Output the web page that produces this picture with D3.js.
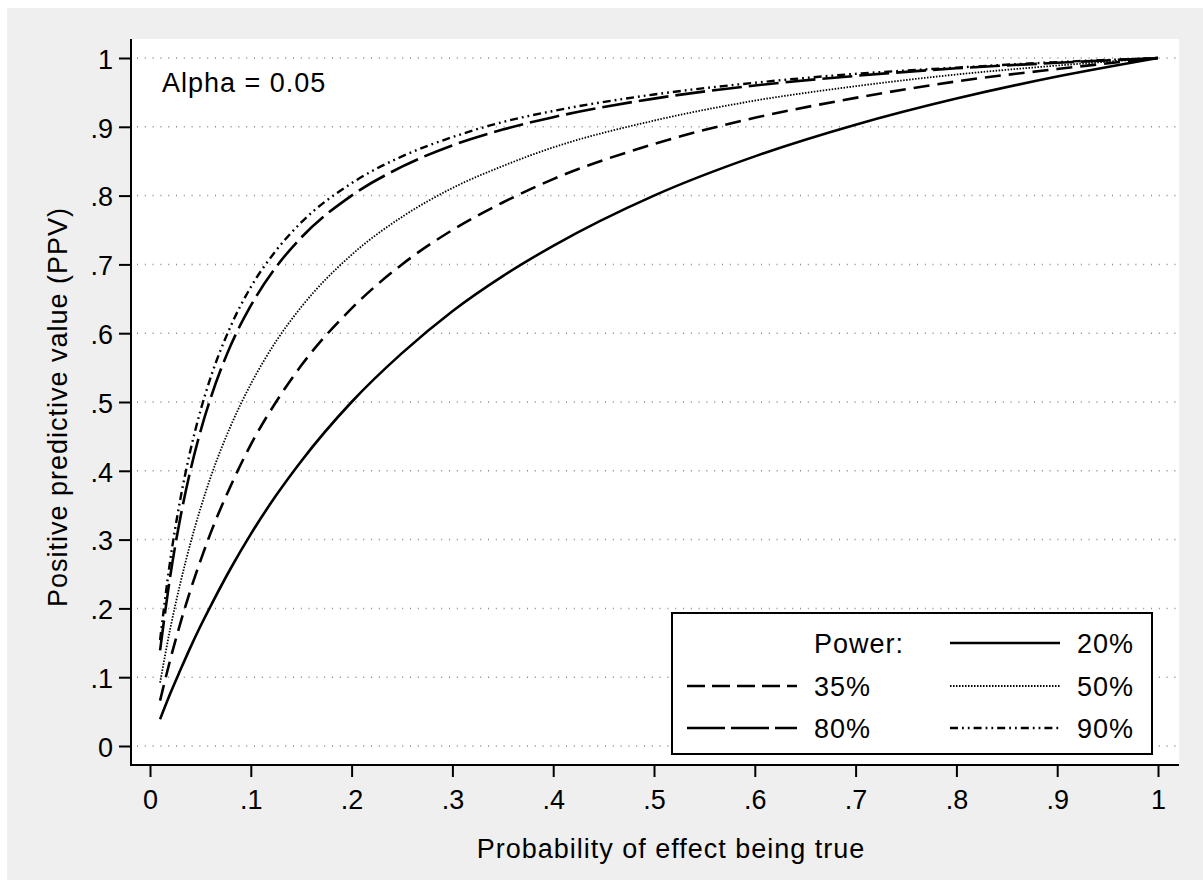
<!DOCTYPE html>
<html>
<head>
<meta charset="utf-8">
<script src="https://cdn.jsdelivr.net/npm/d3@7"></script>
<style>
  body { margin: 0; background: #fff; }
  text { font-family: Arial, "Liberation Sans", sans-serif; fill: #000; font-size: 27px; letter-spacing: 1px; }
  .axis path, .axis line { stroke: #000; stroke-width: 2; }
  .axis text { font-size: 27px; }
</style>
</head>
<body>
<div id="chart"></div>
<script>
// prior probability of effect being true
var probs = [0.01, 0.02, 0.03, 0.04, 0.05, 0.06, 0.08, 0.1, 0.125, 0.15, 0.2, 0.25, 0.3, 0.35, 0.4, 0.5, 0.6, 0.7, 0.8, 0.9, 1];

// PPV
var ppv20 = [0.039, 0.076, 0.110, 0.143, 0.174, 0.203, 0.258, 0.308, 0.364, 0.414, 0.500, 0.571, 0.632, 0.683, 0.727, 0.800, 0.857, 0.903, 0.941, 0.973, 1];
var ppv35 = [0.066, 0.125, 0.178, 0.226, 0.269, 0.309, 0.378, 0.438, 0.500, 0.553, 0.636, 0.700, 0.750, 0.790, 0.824, 0.875, 0.913, 0.942, 0.966, 0.984, 1];
var ppv50 = [0.092, 0.170, 0.236, 0.294, 0.345, 0.390, 0.465, 0.526, 0.588, 0.638, 0.714, 0.769, 0.811, 0.843, 0.870, 0.909, 0.938, 0.959, 0.976, 0.989, 1];
var ppv80 = [0.139, 0.246, 0.331, 0.400, 0.457, 0.505, 0.582, 0.640, 0.696, 0.739, 0.800, 0.842, 0.873, 0.896, 0.914, 0.941, 0.960, 0.974, 0.985, 0.993, 1];
var ppv90 = [0.154, 0.269, 0.358, 0.429, 0.487, 0.535, 0.610, 0.667, 0.720, 0.761, 0.818, 0.857, 0.885, 0.907, 0.923, 0.947, 0.964, 0.977, 0.986, 0.994, 1];

var seriesNames = ["20%", "35%", "50%", "80%", "90%"];
var xTicks = [0, .1, .2, .3, .4, .5, .6, .7, .8, .9, 1];
var yTicks = [0, .1, .2, .3, .4, .5, .6, .7, .8, .9, 1];

var series = [
  { name: seriesNames[0], values: ppv20, dash: null, width: 2.6 },
  { name: seriesNames[1], values: ppv35, dash: "16,8", width: 2.6 },
  { name: seriesNames[2], values: ppv50, dash: "1.5,1.5", width: 1.8 },
  { name: seriesNames[3], values: ppv80, dash: "30,7", width: 2.6 },
  { name: seriesNames[4], values: ppv90, dash: "8,4,1.8,4,1.8,4", width: 2.4 }
];

var svgWidth = 1203;
var svgHeight = 880;

var svg = d3.select("#chart")
  .append("svg")
  .attr("width", svgWidth)
  .attr("height", svgHeight);

// outer graph region and white plot region
svg.append("rect")
  .attr("x", 7).attr("y", 8)
  .attr("width", svgWidth - 7).attr("height", svgHeight - 8)
  .attr("fill", "#efefef");

svg.append("rect")
  .attr("x", 131).attr("y", 39)
  .attr("width", 1179 - 131).attr("height", 765 - 39)
  .attr("fill", "#fff");

var x = d3.scaleLinear().domain([0, 1]).range([150, 1158]);
var y = d3.scaleLinear().domain([0, 1]).range([746, 58]);

var fmt = function(d) {
  if (d === 0) return "0";
  if (d === 1) return "1";
  return d3.format(".1f")(d).replace(/^0/, "");
};

// dotted gridlines
svg.append("g")
  .selectAll("line")
  .data(yTicks)
  .enter()
  .append("line")
  .attr("x1", 137).attr("x2", 1176)
  .attr("y1", d => y(d)).attr("y2", d => y(d))
  .attr("stroke", "#8a8a8a")
  .attr("stroke-width", 1.5)
  .attr("stroke-dasharray", "1,6.8");

// axes
var leftAxis = d3.axisLeft(y).tickValues(yTicks).tickFormat(fmt).tickSize(12).tickPadding(6);
var bottomAxis = d3.axisBottom(x).tickValues(xTicks).tickFormat(fmt).tickSize(12).tickPadding(13);

var gy = svg.append("g")
  .attr("class", "axis")
  .attr("transform", "translate(131,0)")
  .call(leftAxis);
gy.select(".domain").remove();
gy.selectAll("text").attr("dy", "0.38em").style("letter-spacing", "0px");

var gx = svg.append("g")
  .attr("class", "axis")
  .attr("transform", "translate(0,765)")
  .call(bottomAxis);
gx.select(".domain").remove();
gx.selectAll("text").style("letter-spacing", "0px");

svg.append("line")
  .attr("x1", 131).attr("x2", 131).attr("y1", 39).attr("y2", 766)
  .attr("stroke", "#000").attr("stroke-width", 2);
svg.append("line")
  .attr("x1", 130).attr("x2", 1179).attr("y1", 765).attr("y2", 765)
  .attr("stroke", "#000").attr("stroke-width", 2);

// curves
var line = d3.line()
  .x((d, i) => x(probs[i]))
  .y(d => y(d))
  .curve(d3.curveMonotoneX);

svg.append("g")
  .selectAll("path")
  .data(series)
  .enter()
  .append("path")
  .attr("d", d => line(d.values))
  .attr("fill", "none")
  .attr("stroke", "#000")
  .attr("stroke-width", d => d.width)
  .attr("stroke-dasharray", d => d.dash);

// annotation
svg.append("text")
  .attr("x", 162).attr("y", 92)
  .text("Alpha = 0.05");

// axis titles
svg.append("text")
  .attr("x", 671).attr("y", 858)
  .attr("text-anchor", "middle")
  .text("Probability of effect being true");

svg.append("text")
  .attr("transform", "translate(67,407) rotate(-90)")
  .attr("text-anchor", "middle")
  .text("Positive predictive value (PPV)");

// legend
var legend = svg.append("g");
legend.append("rect")
  .attr("x", 672).attr("y", 613)
  .attr("width", 480).attr("height", 141)
  .attr("fill", "#fff").attr("stroke", "#000").attr("stroke-width", 2);

var rows = [643, 686, 728];
var legendItems = [
  { s: series[0], lx: 950, tx: 1077, ry: rows[0] },
  { s: series[1], lx: 687, tx: 814, ry: rows[1] },
  { s: series[2], lx: 950, tx: 1077, ry: rows[1] },
  { s: series[3], lx: 687, tx: 814, ry: rows[2] },
  { s: series[4], lx: 950, tx: 1077, ry: rows[2] }
];

var legendDash = {
  "35%": "18,7",
  "80%": "38,6"
};

legend.append("text")
  .attr("x", 814).attr("y", rows[0]).attr("dy", "0.36em")
  .text("Power:");

legendItems.forEach(function(it) {
  legend.append("line")
    .attr("x1", it.lx).attr("x2", it.lx + 110)
    .attr("y1", it.ry).attr("y2", it.ry)
    .attr("stroke", "#000")
    .attr("stroke-width", it.s.width)
    .attr("stroke-dasharray", legendDash[it.s.name] || it.s.dash);
  legend.append("text")
    .attr("x", it.tx).attr("y", it.ry).attr("dy", "0.36em")
    .text(it.s.name);
});
</script>
</body>
</html>
